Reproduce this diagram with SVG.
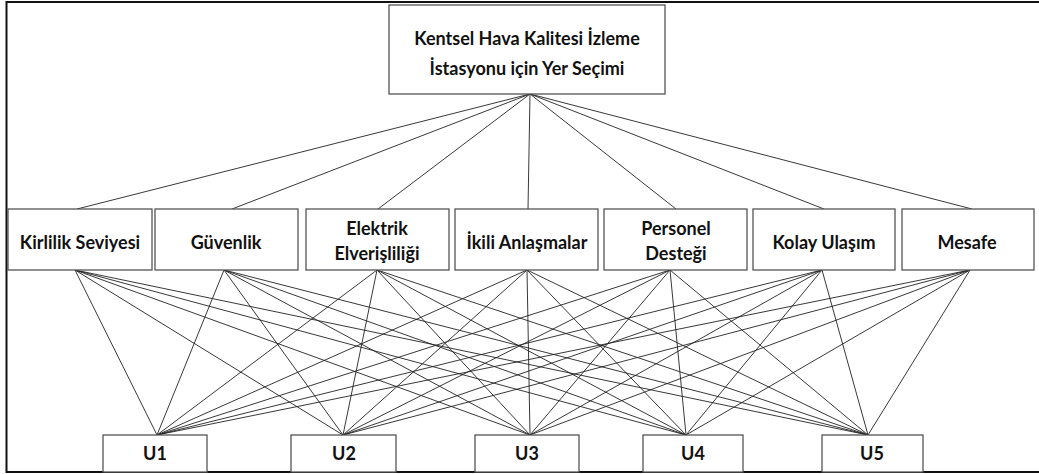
<svg xmlns="http://www.w3.org/2000/svg" width="1039" height="474" viewBox="0 0 1039 474">
<style>
.box{fill:#fff;stroke:#555;stroke-width:1.3}
.t{font-family:Lato,"Liberation Sans",sans-serif;font-weight:bold;font-size:18px;fill:#111;text-anchor:middle}
.c line{stroke:#222;stroke-width:0.9}
</style>
<rect width="1039" height="474" fill="#fff"/>
<rect x="6.5" y="2" width="1040" height="470" fill="none" stroke="#111" stroke-width="2"/>
<g class="c" id="connectors">
<line x1="530" y1="94" x2="77" y2="209"/>
<line x1="530" y1="94" x2="232" y2="209"/>
<line x1="530" y1="94" x2="378" y2="209"/>
<line x1="530" y1="94" x2="528" y2="209"/>
<line x1="530" y1="94" x2="676" y2="209"/>
<line x1="530" y1="94" x2="824" y2="209"/>
<line x1="530" y1="94" x2="972" y2="209"/>
<g id="l1">
<line x1="75" y1="270" x2="157" y2="435"/><line x1="75" y1="270" x2="343" y2="435"/><line x1="75" y1="270" x2="530" y2="435"/><line x1="75" y1="270" x2="686" y2="435"/><line x1="75" y1="270" x2="868" y2="435"/>
<line x1="224" y1="270" x2="157" y2="435"/><line x1="224" y1="270" x2="343" y2="435"/><line x1="224" y1="270" x2="530" y2="435"/><line x1="224" y1="270" x2="686" y2="435"/><line x1="224" y1="270" x2="868" y2="435"/>
<line x1="377" y1="270" x2="157" y2="435"/><line x1="377" y1="270" x2="343" y2="435"/><line x1="377" y1="270" x2="530" y2="435"/><line x1="377" y1="270" x2="686" y2="435"/><line x1="377" y1="270" x2="868" y2="435"/>
<line x1="527" y1="270" x2="157" y2="435"/><line x1="527" y1="270" x2="343" y2="435"/><line x1="527" y1="270" x2="530" y2="435"/><line x1="527" y1="270" x2="686" y2="435"/><line x1="527" y1="270" x2="868" y2="435"/>
<line x1="670" y1="270" x2="157" y2="435"/><line x1="670" y1="270" x2="343" y2="435"/><line x1="670" y1="270" x2="530" y2="435"/><line x1="670" y1="270" x2="686" y2="435"/><line x1="670" y1="270" x2="868" y2="435"/>
<line x1="822" y1="270" x2="157" y2="435"/><line x1="822" y1="270" x2="343" y2="435"/><line x1="822" y1="270" x2="530" y2="435"/><line x1="822" y1="270" x2="686" y2="435"/><line x1="822" y1="270" x2="868" y2="435"/>
<line x1="970" y1="270" x2="157" y2="435"/><line x1="970" y1="270" x2="343" y2="435"/><line x1="970" y1="270" x2="530" y2="435"/><line x1="970" y1="270" x2="686" y2="435"/><line x1="970" y1="270" x2="868" y2="435"/>
</g>
</g>
<g id="root"><rect class="box" x="389" y="5" width="276" height="89"/>
<text class="t" x="527" y="45">Kentsel Hava Kalitesi İzleme</text>
<text class="t" x="527" y="75">İstasyonu için Yer Seçimi</text></g>
<g id="c1"><rect class="box" x="8" y="209" width="144" height="61"/><text class="t" x="80" y="249">Kirlilik Seviyesi</text></g>
<g id="c2"><rect class="box" x="155" y="209" width="143" height="61"/><text class="t" x="226" y="249">Güvenlik</text></g>
<g id="c3"><rect class="box" x="306" y="209" width="143" height="61"/><text class="t" x="377" y="235">Elektrik</text><text class="t" x="377" y="260">Elverişliliği</text></g>
<g id="c4"><rect class="box" x="455" y="209" width="143" height="61"/><text class="t" x="527" y="249">İkili Anlaşmalar</text></g>
<g id="c5"><rect class="box" x="604" y="209" width="143" height="61"/><text class="t" x="676" y="235">Personel</text><text class="t" x="676" y="260">Desteği</text></g>
<g id="c6"><rect class="box" x="753" y="209" width="142" height="61"/><text class="t" x="824" y="249">Kolay Ulaşım</text></g>
<g id="c7"><rect class="box" x="902" y="209" width="132" height="61"/><text class="t" x="967" y="249">Mesafe</text></g>
<g id="u1"><rect class="box" x="103" y="435" width="104" height="37"/><text class="t" x="155" y="460">U1</text></g>
<g id="u2"><rect class="box" x="291" y="435" width="105" height="37"/><text class="t" x="344" y="460">U2</text></g>
<g id="u3"><rect class="box" x="475" y="435" width="104" height="37"/><text class="t" x="527" y="460">U3</text></g>
<g id="u4"><rect class="box" x="643" y="435" width="100" height="37"/><text class="t" x="693" y="460">U4</text></g>
<g id="u5"><rect class="box" x="822" y="435" width="101" height="37"/><text class="t" x="872" y="460">U5</text></g>
</svg>
